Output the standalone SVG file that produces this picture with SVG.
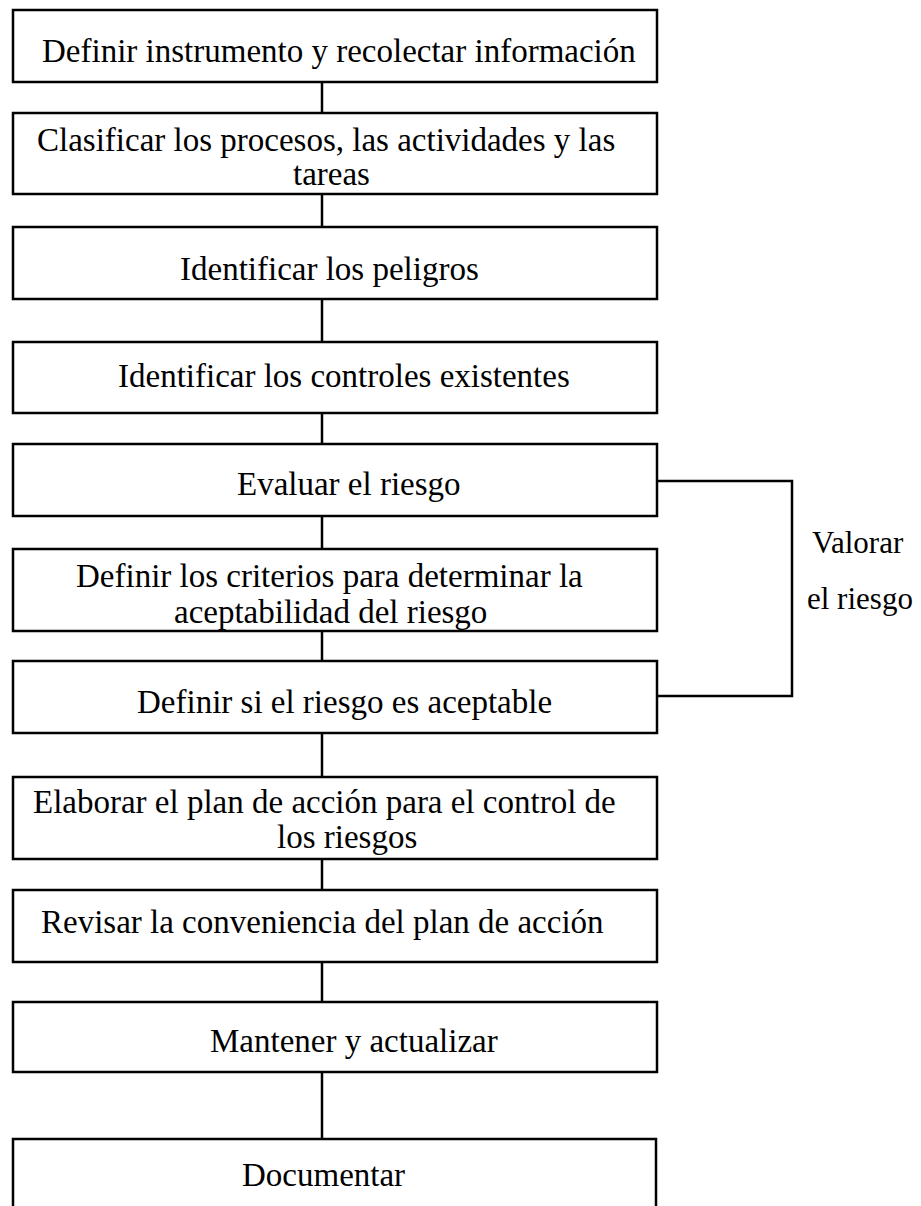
<svg xmlns="http://www.w3.org/2000/svg" width="921" height="1206" viewBox="0 0 921 1206">
  <style>
    .box { fill: #ffffff; stroke: #000000; stroke-width: 2.5; }
    .link { fill: none; stroke: #000000; stroke-width: 2.5; }
    .lbl { font-family: "Liberation Serif", "Times New Roman", serif; font-size: 33px; fill: #000000; }
    .side { font-family: "Liberation Serif", "Times New Roman", serif; font-size: 31px; fill: #000000; }
  </style>
  <rect width="921" height="1206" fill="#ffffff"/>

  <!-- vertical flow connectors and the bracket for the assessment steps -->
  <g id="connectors">
    <line class="link" x1="322" y1="82" x2="322" y2="113"/>
    <line class="link" x1="322" y1="194" x2="322" y2="227"/>
    <line class="link" x1="322" y1="299" x2="322" y2="342"/>
    <line class="link" x1="322" y1="413" x2="322" y2="444"/>
    <line class="link" x1="322" y1="516" x2="322" y2="549"/>
    <line class="link" x1="322" y1="631" x2="322" y2="661"/>
    <line class="link" x1="322" y1="733" x2="322" y2="777"/>
    <line class="link" x1="322" y1="859" x2="322" y2="890"/>
    <line class="link" x1="322" y1="962" x2="322" y2="1002"/>
    <line class="link" x1="322" y1="1072" x2="322" y2="1139"/>
    <path class="link" d="M657,481 H792 V696 H657"/>
  </g>

  <g id="n1">
    <rect class="box" x="13" y="10" width="644" height="72"/>
    <text class="lbl" x="42" y="62">Definir instrumento y recolectar información</text>
  </g>
  <g id="n2">
    <rect class="box" x="13" y="113" width="644" height="81"/>
    <text class="lbl" x="37" y="151">Clasificar los procesos, las actividades y las</text>
    <text class="lbl" x="293" y="185">tareas</text>
  </g>
  <g id="n3">
    <rect class="box" x="13" y="227" width="644" height="72"/>
    <text class="lbl" x="180" y="280">Identificar los peligros</text>
  </g>
  <g id="n4">
    <rect class="box" x="13" y="342" width="644" height="71"/>
    <text class="lbl" x="118" y="387">Identificar los controles existentes</text>
  </g>
  <g id="n5">
    <rect class="box" x="13" y="444" width="644" height="72"/>
    <text class="lbl" x="237" y="495">Evaluar el riesgo</text>
  </g>
  <g id="n6">
    <rect class="box" x="13" y="549" width="644" height="82"/>
    <text class="lbl" x="76" y="587">Definir los criterios para determinar la</text>
    <text class="lbl" x="174" y="623">aceptabilidad del riesgo</text>
  </g>
  <g id="n7">
    <rect class="box" x="13" y="661" width="644" height="72"/>
    <text class="lbl" x="137" y="713">Definir si el riesgo es aceptable</text>
  </g>
  <g id="n8">
    <rect class="box" x="13" y="777" width="644" height="82"/>
    <text class="lbl" x="33" y="813">Elaborar el plan de acción para el control de</text>
    <text class="lbl" x="277" y="848">los riesgos</text>
  </g>
  <g id="n9">
    <rect class="box" x="13" y="890" width="644" height="72"/>
    <text class="lbl" x="41" y="933">Revisar la conveniencia del plan de acción</text>
  </g>
  <g id="n10">
    <rect class="box" x="13" y="1002" width="644" height="70"/>
    <text class="lbl" x="210" y="1052">Mantener y actualizar</text>
  </g>
  <g id="n11">
    <rect class="box" x="13" y="1139" width="643" height="100"/>
    <text class="lbl" x="242" y="1186">Documentar</text>
  </g>

  <g id="side-label">
    <text class="side" x="812" y="553">Valorar</text>
    <text class="side" x="807" y="609">el riesgo</text>
  </g>
</svg>
